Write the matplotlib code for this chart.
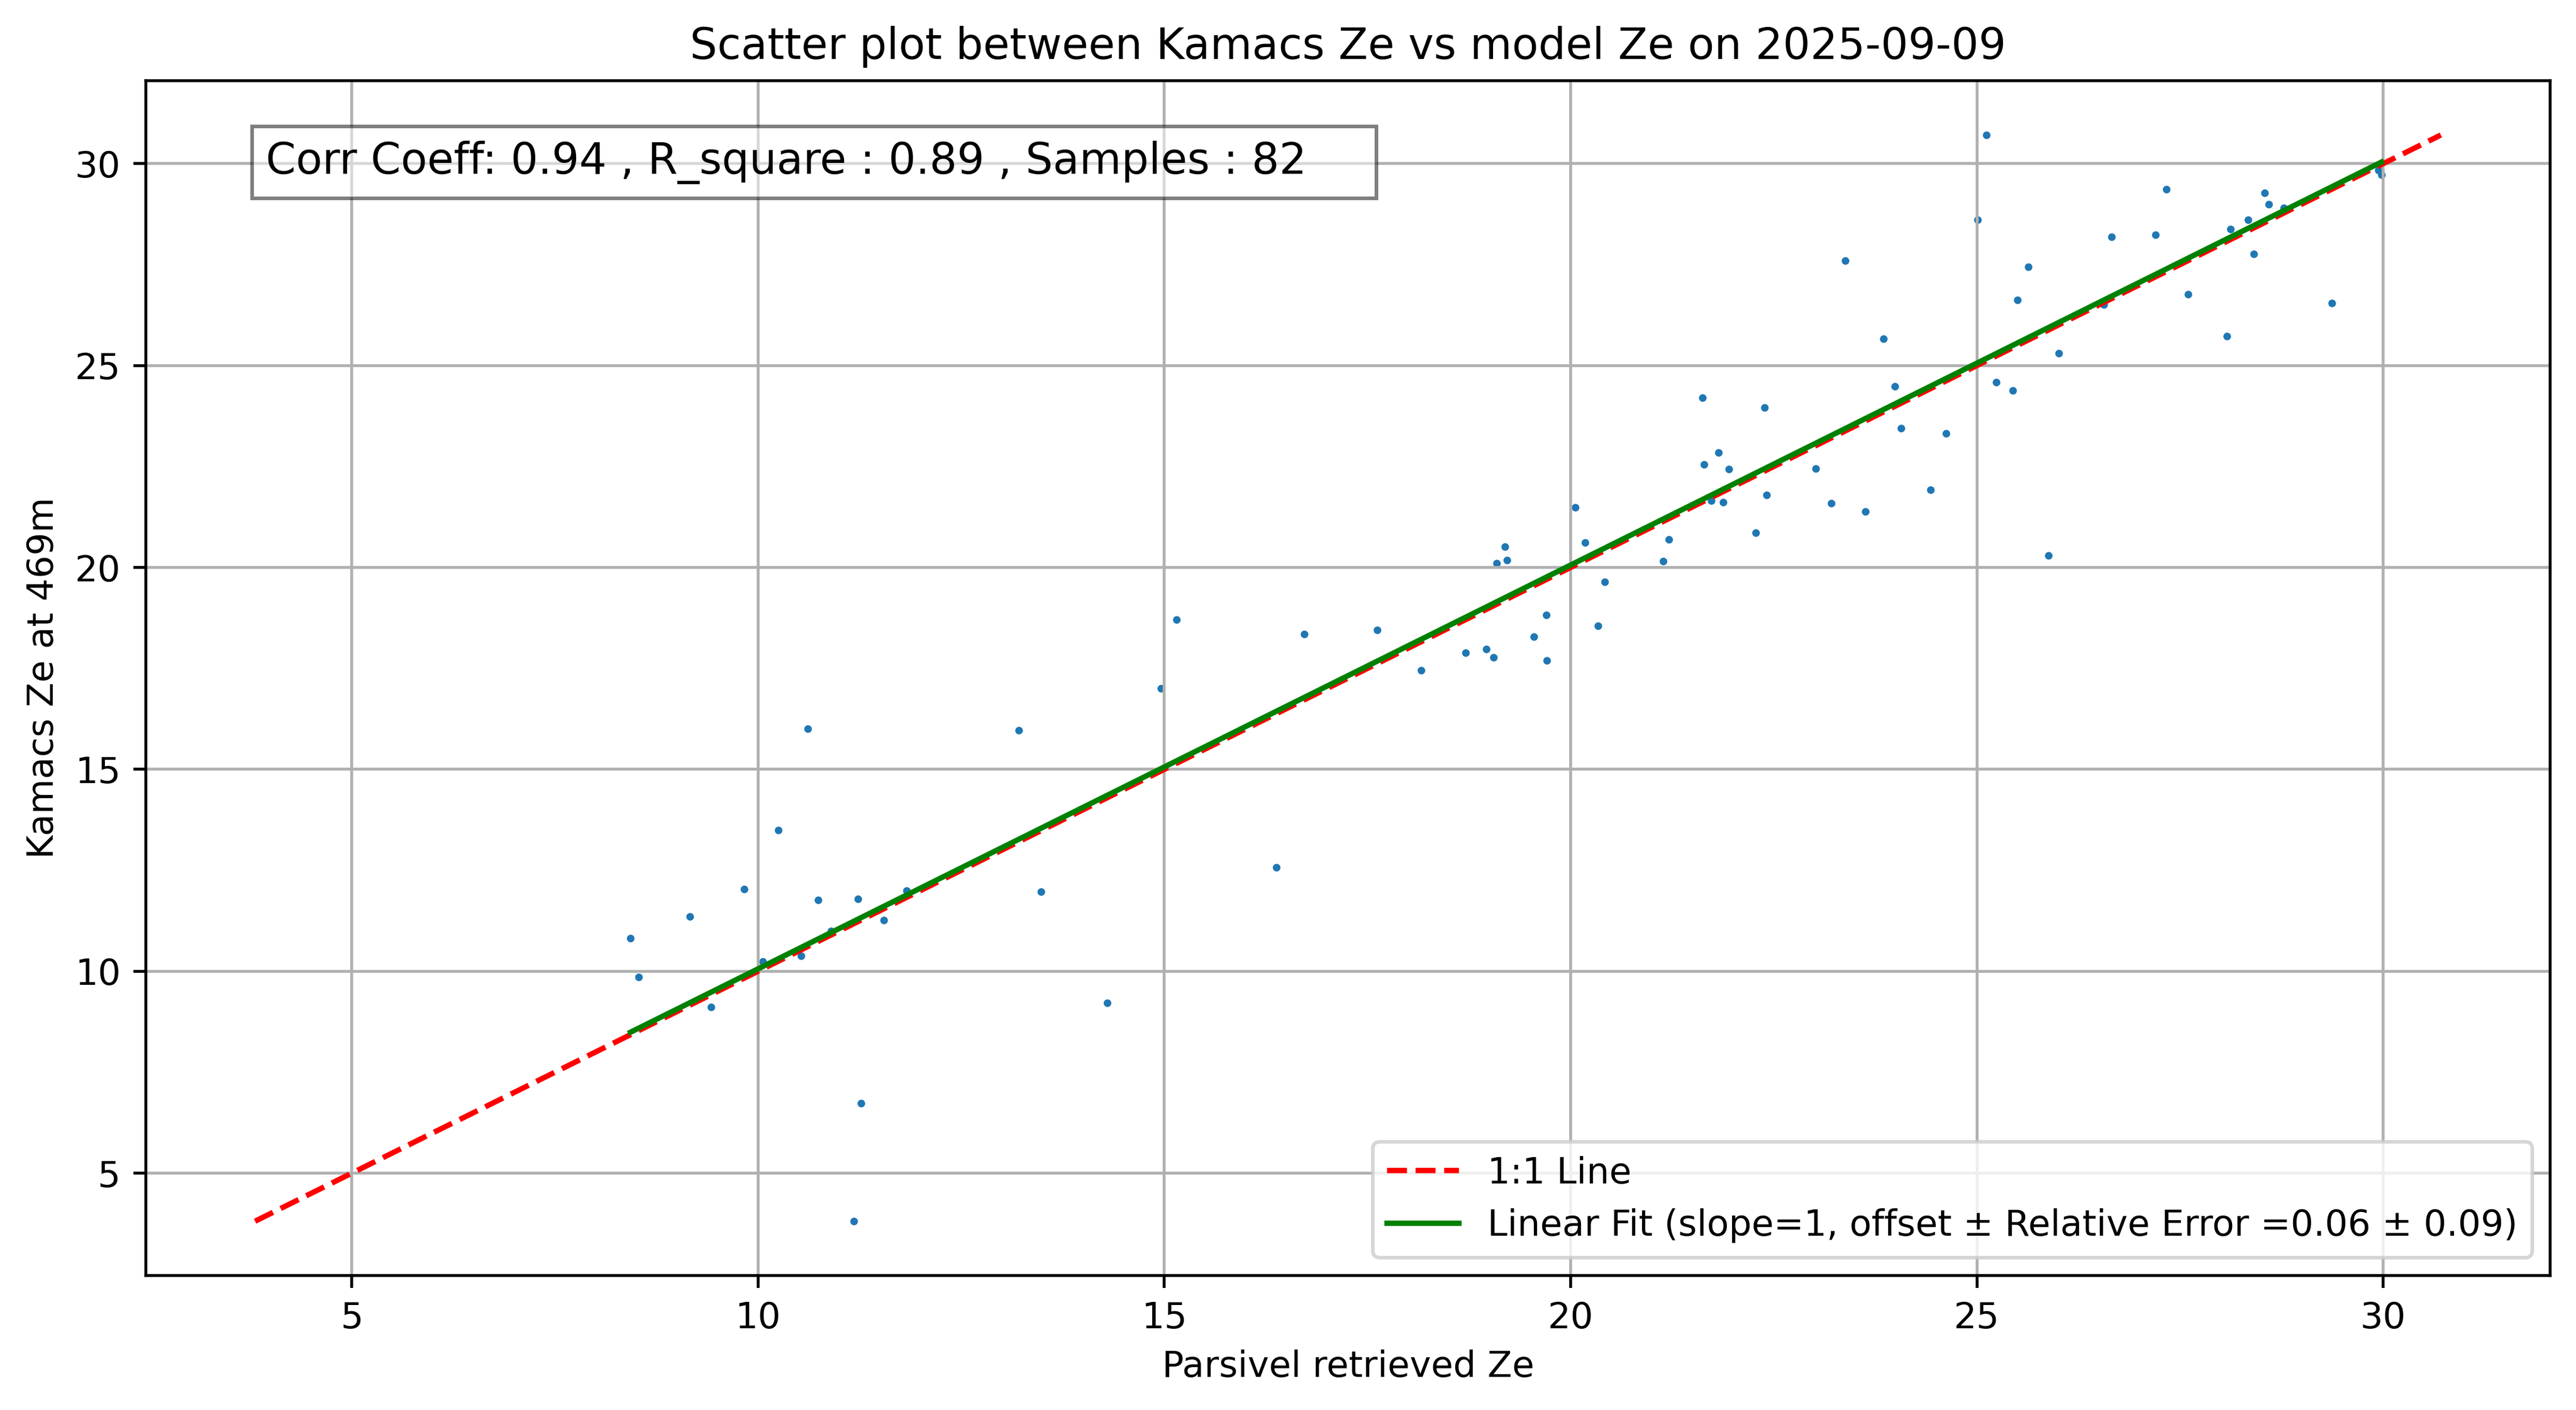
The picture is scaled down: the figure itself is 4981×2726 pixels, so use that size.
import numpy as np
import matplotlib
matplotlib.use("Agg")
import matplotlib.pyplot as plt

parsivel_ze = np.array([
    8.43, 8.53, 9.16, 9.42, 9.83, 10.06, 10.25, 10.53, 10.61, 10.74,
    10.90, 11.18, 11.23, 11.27, 11.55, 11.83, 13.21, 13.48, 14.30,
    14.96, 15.15, 16.38, 16.72, 17.62, 18.16, 18.71, 18.96, 19.05, 19.09,
    19.19, 19.22, 19.55, 19.70, 19.71, 20.06, 20.18, 20.34, 20.42, 21.14, 21.21,
    21.62, 21.64, 21.73, 21.82, 21.88, 21.95, 22.28, 22.39, 22.41, 23.02,
    23.21, 23.38, 23.63, 23.85, 23.99, 24.07, 24.43, 24.62, 25.01, 25.12,
    25.24, 25.44, 25.50, 25.63, 25.88, 26.01, 26.56, 26.66, 27.20, 27.33,
    27.60, 28.08, 28.12, 28.34, 28.41, 28.54, 28.59, 28.78, 29.37, 29.94, 29.98,
])
kamacs_ze = np.array([
    10.82, 9.85, 11.35, 9.11, 12.04, 10.24, 13.50, 10.38, 16.00, 11.76,
    11.00, 3.81, 11.79, 6.73, 11.27, 12.00, 15.97, 11.97, 9.22,
    17.00, 18.71, 12.57, 18.35, 18.45, 17.45, 17.89, 17.98, 17.77, 20.10,
    20.51, 20.18, 18.29, 18.82, 17.69, 21.49, 20.61, 18.56, 19.64, 20.16, 20.69,
    24.20, 22.55, 21.65, 22.84, 21.61, 22.44, 20.86, 23.96, 21.80, 22.45,
    21.59, 27.60, 21.38, 25.66, 24.49, 23.45, 21.92, 23.32, 28.61, 30.71,
    24.59, 24.38, 26.62, 27.44, 20.29, 25.30, 26.51, 28.19, 28.24, 29.37,
    26.77, 25.73, 28.38, 28.61, 27.76, 29.27, 28.99, 28.90, 26.55, 29.84, 29.72,
])

fit_slope = 1
fit_offset = 0.06
rel_error = 0.09
corr_coeff = 0.94
r_square = 0.89
n_samples = 82
title = "Scatter plot between Kamacs Ze vs model Ze on 2025-09-09"

fig = plt.figure(figsize=(4981 / 500, 2726 / 500), dpi=500)
ax = fig.add_axes([0.05661, 0.09538, 0.98996 - 0.05661, 0.94277 - 0.09538])

ax.scatter(parsivel_ze, kamacs_ze, s=4.5, marker='o', color='#1f77b4', linewidths=0)

allv = np.concatenate([parsivel_ze, kamacs_ze])
lo, hi = allv.min(), allv.max()
ax.plot([lo, hi], [lo, hi], 'r--', label='1:1 Line')

xf = np.array([parsivel_ze.min(), parsivel_ze.max()])
ax.plot(xf, fit_slope * xf + fit_offset, color='green',
        label=f'Linear Fit (slope={fit_slope}, offset \u00b1 Relative Error ={fit_offset:.2f} \u00b1 {rel_error:.2f})')

ax.text(0.05, 0.95,
        f'Corr Coeff: {corr_coeff:.2f} , R_square : {r_square:.2f} , Samples : {n_samples}    ',
        transform=ax.transAxes, fontsize=12, va='top',
        bbox=dict(facecolor='white', alpha=0.5))

ax.set_xlabel('Parsivel retrieved Ze')
ax.set_ylabel('Kamacs Ze at 469m')
ax.set_title(title)
ax.grid(True)
ax.legend(loc='lower right')

fig.savefig('out.png', dpi=500)
